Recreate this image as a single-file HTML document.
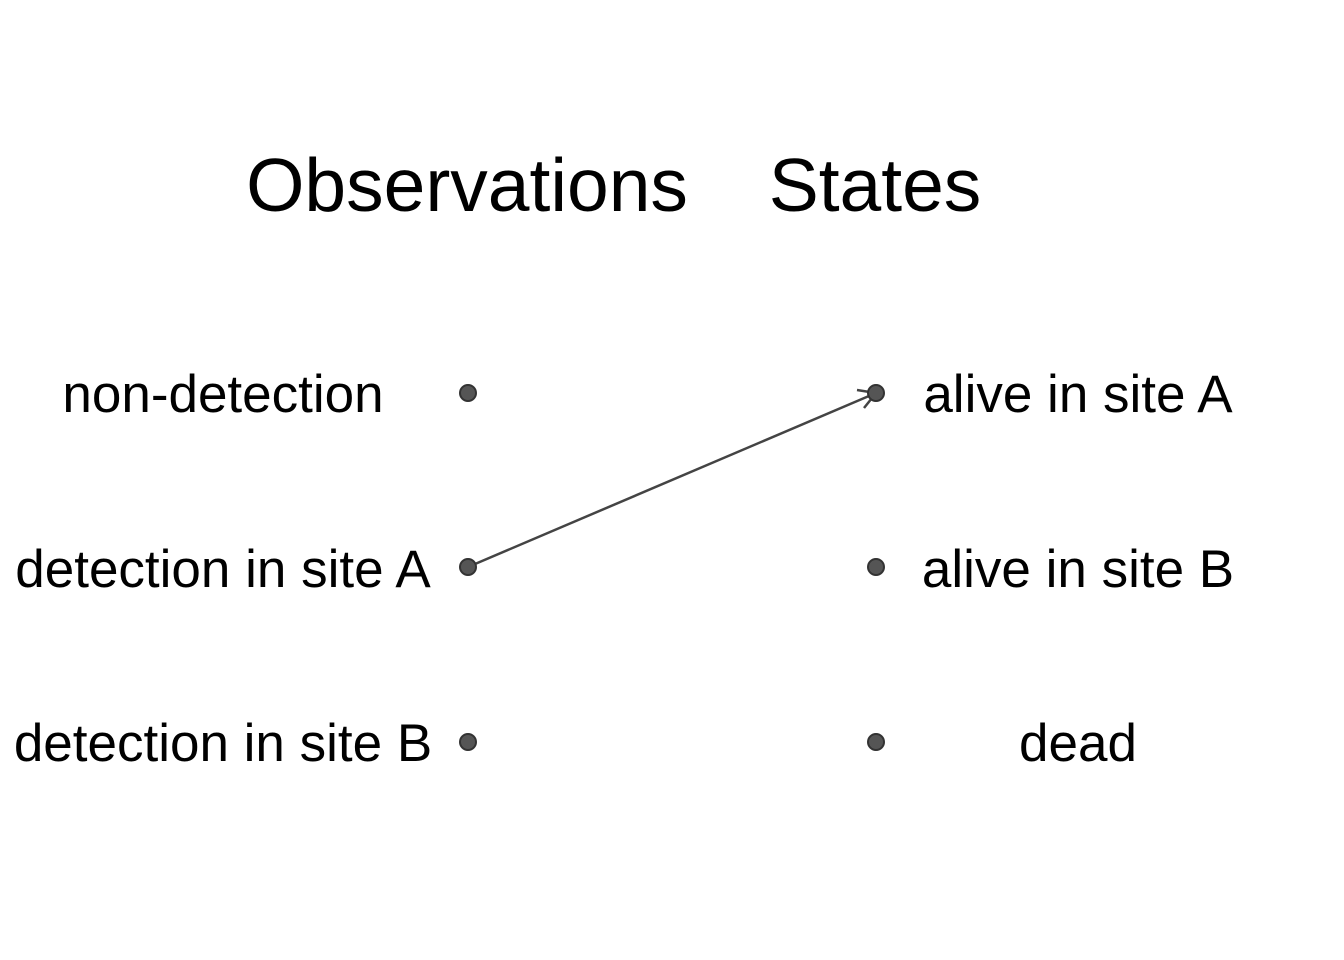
<!DOCTYPE html>
<html><head><style>html,body{margin:0;padding:0;background:#fff}</style></head>
<body>
<svg width="1344" height="960" xmlns="http://www.w3.org/2000/svg" style="display:block">
<rect width="1344" height="960" fill="#fff"/>
<g font-family="Liberation Sans, Arial, sans-serif" fill="#000" text-anchor="middle">
<text x="467" y="211" font-size="75">Observations</text>
<text x="875" y="211" font-size="75">States</text>
<g font-size="53">
<text x="223" y="412">non-detection</text>
<text x="223" y="587">detection in site A</text>
<text x="223" y="761">detection in site B</text>
<text x="1078" y="412">alive in site A</text>
<text x="1078" y="587">alive in site B</text>
<text x="1078" y="761">dead</text>
</g>
</g>
<g stroke="#444" stroke-width="2.5" fill="none">
<line x1="468" y1="567" x2="876" y2="393"/>
<polyline points="857,390 876,393 864,408"/>
</g>
<g fill="#555" stroke="#333" stroke-width="2">
<circle cx="468" cy="393" r="8"/>
<circle cx="468" cy="567" r="8"/>
<circle cx="468" cy="742" r="8"/>
<circle cx="876" cy="393" r="8"/>
<circle cx="876" cy="567" r="8"/>
<circle cx="876" cy="742" r="8"/>
</g>
</svg>
</body></html>
